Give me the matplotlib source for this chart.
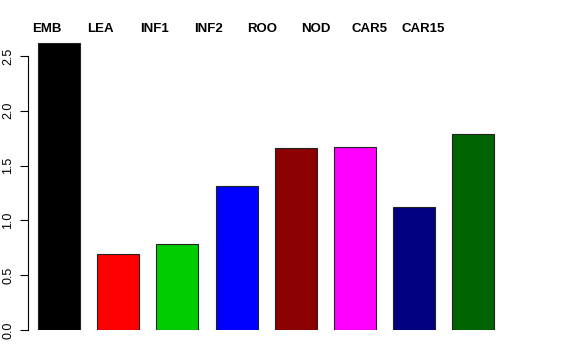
import matplotlib
matplotlib.use('Agg')
import matplotlib.pyplot as plt

categories = ['EMB', 'LEA', 'INF1', 'INF2', 'ROO', 'NOD', 'CAR5', 'CAR15']
values = [2.62, 0.69, 0.785, 1.31, 1.66, 1.67, 1.125, 1.79]
colors = ['#000000', '#FF0000', '#00CD00', '#0000FF', '#8B0000', '#FF00FF', '#000080', '#006400']
yticks = [0.0, 0.5, 1.0, 1.5, 2.0, 2.5]

plt.rcParams['font.family'] = ['Liberation Sans', 'DejaVu Sans']

fig = plt.figure(figsize=(5.76, 3.6), dpi=100)
# axes in pixel terms: left spine at x=28, zero line at y=330
ax = fig.add_axes([28 / 576, 30 / 360, (560 - 28) / 576, 300 / 360])
x = list(range(len(categories)))
ax.bar(x, values, width=0.71, color=colors, edgecolor='#222222', linewidth=0.8)
ax.set_xlim((28 - 59) / 59.2, (560 - 59) / 59.2)
ax.set_ylim(0, 300 / 109.6)

for s in ['top', 'right', 'bottom']:
    ax.spines[s].set_visible(False)
ax.spines['left'].set_bounds(0, 2.5)
ax.spines['left'].set_linewidth(0.8)
ax.set_xticks([])
ax.set_yticks(yticks)
ax.set_yticklabels([f'{v:.1f}' for v in yticks], rotation=90, va='center', fontsize=9)
ax.tick_params(axis='y', length=6, width=0.8, pad=4)

# category labels along the top
for i, name in enumerate(categories):
    fig.text((47 + i * 53.7) / 576, 1 - 29 / 360, name, ha='center', va='center',
             fontsize=9.5, fontweight='bold')

fig.savefig('out.png', dpi=100)
